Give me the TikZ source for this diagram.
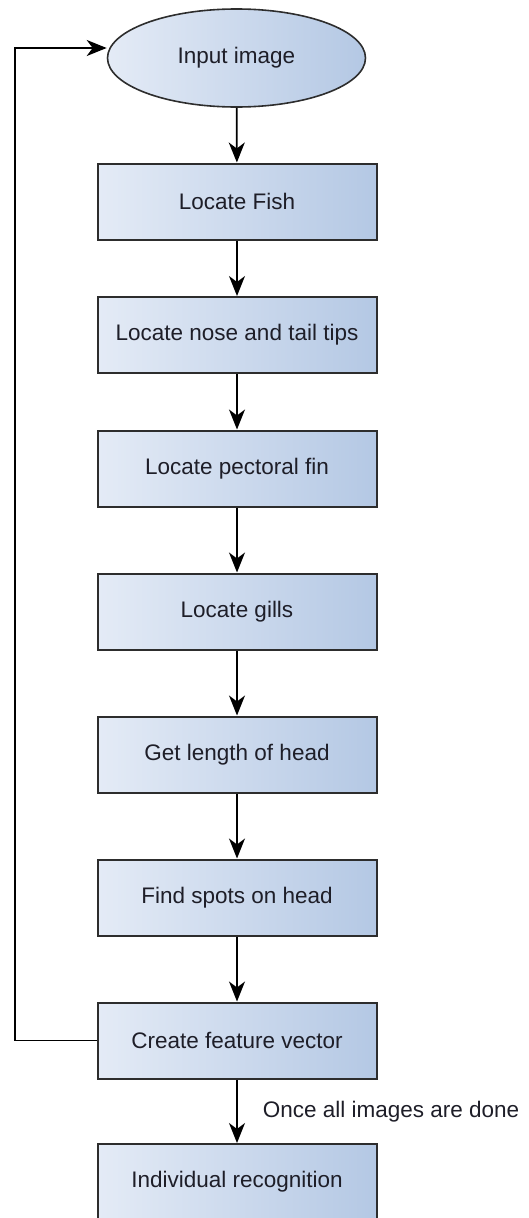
\documentclass[tikz,border=0pt]{standalone}
\usepackage{fontspec}
\setmainfont{Liberation Sans}
\usetikzlibrary{arrows.meta,shapes.geometric}
\definecolor{fillL}{RGB}{228,235,246}
\definecolor{fillR}{RGB}{180,200,228}
\definecolor{edgeC}{RGB}{45,45,45}
\definecolor{txtC}{RGB}{30,30,40}
\tikzset{
  flowbox/.style={rectangle, draw=edgeC, line width=2pt, left color=fillL, right color=fillR,
    minimum width=279pt, minimum height=76pt, inner sep=0pt, text=txtC,
    font=\fontsize{22.5}{27}\selectfont},
  startnode/.style={ellipse, draw=edgeC, line width=1.6pt, left color=fillL, right color=fillR,
    minimum width=258pt, minimum height=98pt, inner sep=0pt, text=txtC,
    font=\fontsize{22.5}{27}\selectfont},
  arr/.style={draw=black, line width=1.8pt, -{Stealth[length=20pt, width=16pt, inset=6pt]}},
  lbl/.style={text=txtC, font=\fontsize{22.5}{27}\selectfont, inner sep=0pt}
}
\begin{document}
\begin{tikzpicture}[x=1pt, y=-1pt]
\useasboundingbox (0,0) rectangle (529,1218);
\node[startnode] (in) at (236.5,58) {Input image};
\node[flowbox] (fish) at (237,201.5) {Locate Fish};
\node[flowbox] (nose) at (237,335) {Locate nose and tail tips};
\node[flowbox] (pect) at (237,468.5) {Locate pectoral fin};
\node[flowbox] (gill) at (237,611.5) {Locate gills};
\node[flowbox] (head) at (237,754.5) {Get length of head};
\node[flowbox] (spot) at (237,897.5) {Find spots on head};
\node[flowbox] (feat) at (237,1040.5) {Create feature vector};
\node[flowbox] (indiv) at (237,1182) {Individual recognition};

\draw[arr] (in) -- (fish);
\draw[arr] (fish) -- (nose);
\draw[arr] (nose) -- (pect);
\draw[arr] (pect) -- (gill);
\draw[arr] (gill) -- (head);
\draw[arr] (head) -- (spot);
\draw[arr] (spot) -- (feat);
\draw[arr] (feat) -- node[lbl, anchor=west, xshift=25pt] {Once all images are done} (indiv);

\coordinate (c1) at (15,1040.5);
\coordinate (c2) at (15,48);
\draw[arr] (feat.west) -- (c1) -- (c2) -- (c2 -| in.west);
\end{tikzpicture}
\end{document}
